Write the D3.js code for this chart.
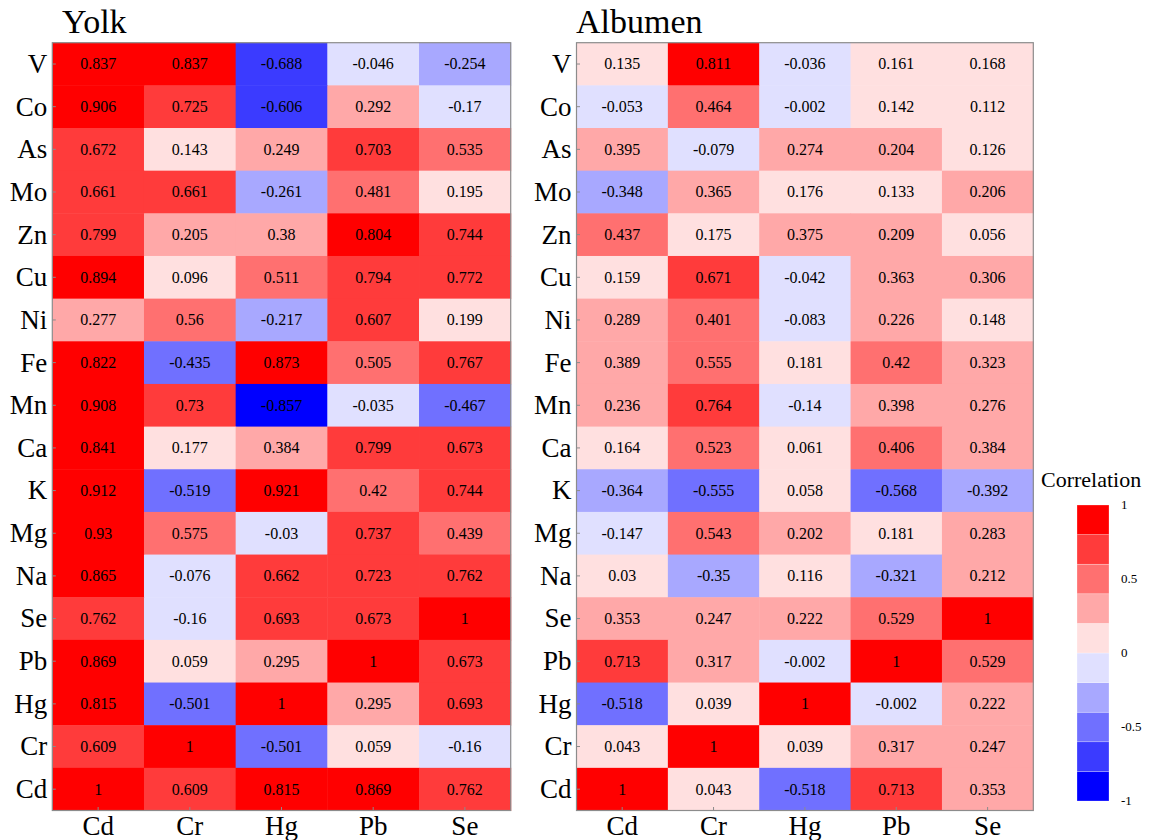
<!DOCTYPE html>
<html>
<head>
<meta charset="utf-8">
<script src="https://cdn.jsdelivr.net/npm/d3@7"></script>
<style>
  html, body { margin: 0; padding: 0; background: #fff; }
  svg { display: block; }
</style>
</head>
<body>
<svg id="chart" width="1150" height="840"></svg>
<script>
const rowLabels = ["V","Co","As","Mo","Zn","Cu","Ni","Fe","Mn","Ca","K","Mg","Na","Se","Pb","Hg","Cr","Cd"];
const colLabels = ["Cd","Cr","Hg","Pb","Se"];

const yolkValues = [
  [0.837, 0.837, -0.688, -0.046, -0.254],
  [0.906, 0.725, -0.606, 0.292, -0.17],
  [0.672, 0.143, 0.249, 0.703, 0.535],
  [0.661, 0.661, -0.261, 0.481, 0.195],
  [0.799, 0.205, 0.38, 0.804, 0.744],
  [0.894, 0.096, 0.511, 0.794, 0.772],
  [0.277, 0.56, -0.217, 0.607, 0.199],
  [0.822, -0.435, 0.873, 0.505, 0.767],
  [0.908, 0.73, -0.857, -0.035, -0.467],
  [0.841, 0.177, 0.384, 0.799, 0.673],
  [0.912, -0.519, 0.921, 0.42, 0.744],
  [0.93, 0.575, -0.03, 0.737, 0.439],
  [0.865, -0.076, 0.662, 0.723, 0.762],
  [0.762, -0.16, 0.693, 0.673, 1],
  [0.869, 0.059, 0.295, 1, 0.673],
  [0.815, -0.501, 1, 0.295, 0.693],
  [0.609, 1, -0.501, 0.059, -0.16],
  [1, 0.609, 0.815, 0.869, 0.762]
];

const albumenValues = [
  [0.135, 0.811, -0.036, 0.161, 0.168],
  [-0.053, 0.464, -0.002, 0.142, 0.112],
  [0.395, -0.079, 0.274, 0.204, 0.126],
  [-0.348, 0.365, 0.176, 0.133, 0.206],
  [0.437, 0.175, 0.375, 0.209, 0.056],
  [0.159, 0.671, -0.042, 0.363, 0.306],
  [0.289, 0.401, -0.083, 0.226, 0.148],
  [0.389, 0.555, 0.181, 0.42, 0.323],
  [0.236, 0.764, -0.14, 0.398, 0.276],
  [0.164, 0.523, 0.061, 0.406, 0.384],
  [-0.364, -0.555, 0.058, -0.568, -0.392],
  [-0.147, 0.543, 0.202, 0.181, 0.283],
  [0.03, -0.35, 0.116, -0.321, 0.212],
  [0.353, 0.247, 0.222, 0.529, 1],
  [0.713, 0.317, -0.002, 1, 0.529],
  [-0.518, 0.039, 1, -0.002, 0.222],
  [0.043, 1, 0.039, 0.317, 0.247],
  [1, 0.043, -0.518, 0.713, 0.353]
];

const legendTicks = [1, 0.5, 0, -0.5, -1];
const binEdges = [-0.8, -0.6, -0.4, -0.2, 0, 0.2, 0.4, 0.6, 0.8];
const binColors = ["#0000FF","#3B3BFF","#7070FF","#A8A8FF","#E0E0FF","#FFE0E0","#FFA8A8","#FF7070","#FF3B3B","#FF0000"];

const color = d3.scaleThreshold().domain(binEdges).range(binColors);
const FONT = "'Liberation Serif', 'Times New Roman', serif";
const svg = d3.select("#chart");

function drawPanel(title, values, x0, x1, y0, y1, titleX) {
  const g = svg.append("g");
  const x = d3.scaleBand().domain(colLabels).range([x0, x1]);
  const y = d3.scaleBand().domain(rowLabels).range([y0, y1]);

  const cells = [];
  values.forEach((row, i) => row.forEach((v, j) => cells.push({r: rowLabels[i], c: colLabels[j], v})));

  g.selectAll("rect.cell").data(cells).enter().append("rect")
    .attr("class", "cell")
    .attr("x", d => x(d.c)).attr("y", d => y(d.r))
    .attr("width", x.bandwidth() + 0.5).attr("height", y.bandwidth() + 0.5)
    .attr("fill", d => color(d.v));

  g.selectAll("text.val").data(cells).enter().append("text")
    .attr("class", "val")
    .attr("x", d => x(d.c) + x.bandwidth() / 2)
    .attr("y", d => y(d.r) + y.bandwidth() / 2)
    .attr("dy", "0.34em")
    .attr("text-anchor", "middle")
    .attr("font-family", FONT).attr("font-size", 16)
    .attr("fill", "#000")
    .text(d => String(d.v));

  g.append("rect").attr("x", x0).attr("y", y0).attr("width", x1 - x0).attr("height", y1 - y0)
    .attr("fill", "none").attr("stroke", "#8c8c8c").attr("stroke-width", 1.2);

  g.selectAll("line.yt").data(rowLabels).enter().append("line")
    .attr("x1", x0).attr("x2", x0 + 3.5)
    .attr("y1", d => y(d) + y.bandwidth() / 2).attr("y2", d => y(d) + y.bandwidth() / 2)
    .attr("stroke", "#8c8c8c").attr("stroke-width", 1);
  g.selectAll("line.xt").data(colLabels).enter().append("line")
    .attr("y1", y1).attr("y2", y1 - 3.5)
    .attr("x1", d => x(d) + x.bandwidth() / 2).attr("x2", d => x(d) + x.bandwidth() / 2)
    .attr("stroke", "#8c8c8c").attr("stroke-width", 1);

  g.selectAll("text.rl").data(rowLabels).enter().append("text")
    .attr("x", x0 - 5)
    .attr("y", d => y(d) + y.bandwidth() / 2)
    .attr("dy", "0.33em")
    .attr("text-anchor", "end")
    .attr("font-family", FONT).attr("font-size", 27)
    .text(d => d);

  g.selectAll("text.cl").data(colLabels).enter().append("text")
    .attr("x", d => x(d) + x.bandwidth() / 2)
    .attr("y", 835)
    .attr("text-anchor", "middle")
    .attr("font-family", FONT).attr("font-size", 27)
    .text(d => d);

  g.append("text").attr("x", titleX).attr("y", 33)
    .attr("font-family", FONT).attr("font-size", 34)
    .text(title);
}

drawPanel("Yolk", yolkValues, 52.3, 510.7, 42.7, 810.5, 62);
drawPanel("Albumen", albumenValues, 576.5, 1033.3, 42.7, 810.5, 576);

const lg = svg.append("g");
lg.append("text").attr("x", 1041).attr("y", 487)
  .attr("font-family", FONT).attr("font-size", 22).text("Correlation");
const ly = d3.scaleLinear().domain([1, -1]).range([505, 801]);
const legendBins = binColors.map((c, i) => ({
  lo: i === 0 ? -1 : binEdges[i - 1],
  hi: i === binColors.length - 1 ? 1 : binEdges[i],
  c
}));
lg.selectAll("rect").data(legendBins).enter().append("rect")
  .attr("x", 1077).attr("width", 32)
  .attr("y", d => ly(d.hi)).attr("height", d => ly(d.lo) - ly(d.hi))
  .attr("fill", d => d.c)
  .attr("stroke", "rgba(255,255,255,0.5)").attr("stroke-width", 0.5);
lg.selectAll("text.lt").data(legendTicks).enter().append("text")
  .attr("x", 1121).attr("y", d => ly(d)).attr("dy", "0.33em")
  .attr("font-family", FONT).attr("font-size", 13)
  .text(d => String(d));
</script>
</body>
</html>
